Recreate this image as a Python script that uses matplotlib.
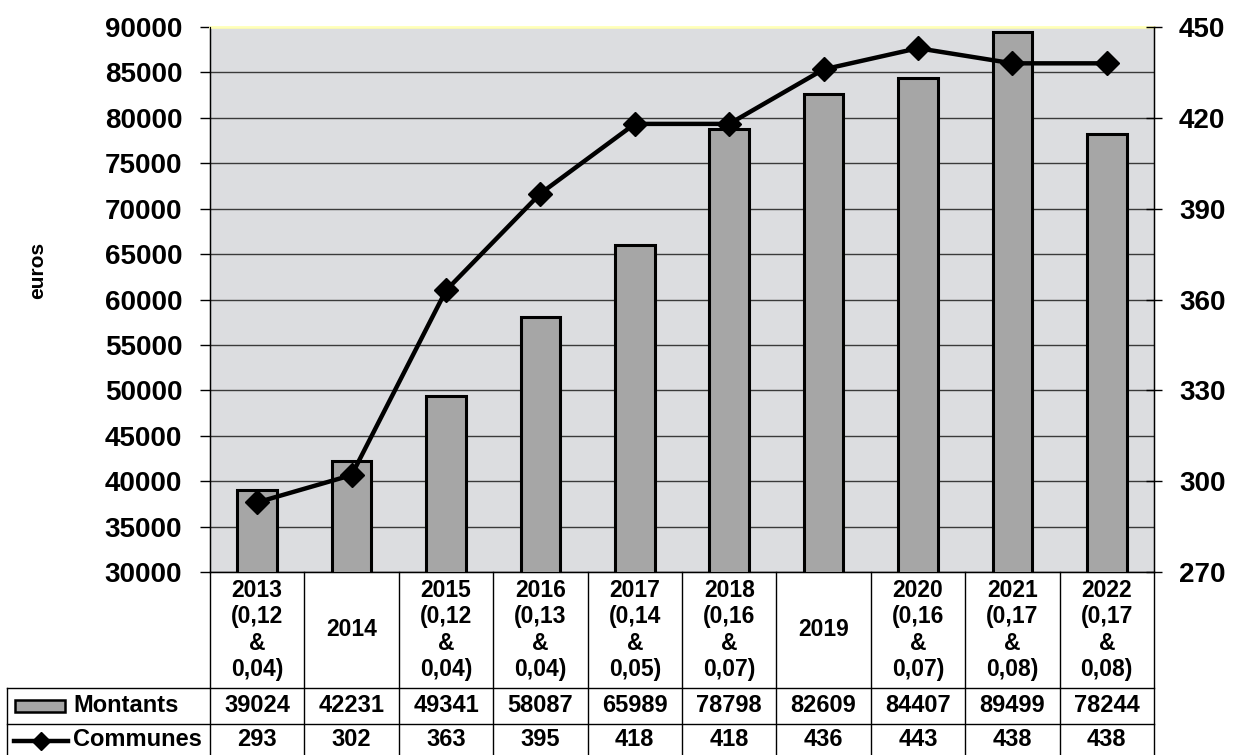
import matplotlib.pyplot as plt
from matplotlib.lines import Line2D
from matplotlib.patches import Rectangle
from matplotlib.transforms import blended_transform_factory

plt.rcParams['font.family'] = ['Liberation Sans', 'DejaVu Sans']
plt.rcParams['font.weight'] = 'bold'

categories = ['2013\n(0,12\n&\n0,04)', '2014', '2015\n(0,12\n&\n0,04)', '2016\n(0,13\n&\n0,04)',
              '2017\n(0,14\n&\n0,05)', '2018\n(0,16\n&\n0,07)', '2019', '2020\n(0,16\n&\n0,07)',
              '2021\n(0,17\n&\n0,08)', '2022\n(0,17\n&\n0,08)']
montants = [39024, 42231, 49341, 58087, 65989, 78798, 82609, 84407, 89499, 78244]
communes = [293, 302, 363, 395, 418, 418, 436, 443, 438, 438]
left_ticks = list(range(30000, 90001, 5000))
right_ticks = list(range(270, 451, 30))

W, H = 1233, 755


def fx(x):
    return x / W


def fy(y):
    return 1 - y / H


fig = plt.figure(figsize=(W / 100, H / 100), dpi=100)
ax = fig.add_axes([fx(210), fy(572), (1154 - 210) / W, (572 - 27) / H])
ax.set_facecolor('#dcdde0')

x = list(range(len(montants)))
ax.bar(x, montants, width=0.42, color='#a6a6a6', edgecolor='black', linewidth=2.2, zorder=3)
ax.set_xlim(-0.5, len(x) - 0.5)
ax.set_ylim(30000, 90000)
ax.set_yticks(left_ticks)
ax.set_xticks([])
ax.grid(axis='y', color='#3a3a3a', linewidth=1, zorder=1)
ax.tick_params(axis='y', labelsize=20, length=7, width=1, pad=13, direction='out')
for lab in ax.get_yticklabels():
    lab.set_fontweight('bold')
ax.spines['top'].set_color('#ffffb8')
ax.spines['top'].set_linewidth(2)
ax.spines['left'].set_linewidth(1)
ax.spines['bottom'].set_linewidth(1)

ax2 = ax.twinx()
ax2.plot(x, communes, color='black', linewidth=3.2, marker='D', markersize=12, zorder=5)
ax2.set_ylim(270, 450)
ax2.set_yticks(right_ticks)
ax2.tick_params(axis='y', labelsize=20, length=12, width=1, pad=12, direction='inout')
for lab in ax2.get_yticklabels():
    lab.set_fontweight('bold')
ax2.spines['top'].set_visible(False)
ax2.spines['right'].set_linewidth(1)

fig.text(fx(38), fy(270), 'euros', rotation=90, ha='center', va='center', fontsize=15,
         fontweight='bold')

# data table under the chart
tr = blended_transform_factory(ax.transData, fig.transFigure)
for k in range(len(x) + 1):
    fig.add_artist(Line2D([k - 0.5, k - 0.5], [fy(572), fy(755)], transform=tr,
                          color='black', linewidth=1))
for yy in (688, 724):
    fig.add_artist(Line2D([fx(7), fx(1154)], [fy(yy), fy(yy)], color='black', linewidth=1))
fig.add_artist(Line2D([fx(7), fx(7)], [fy(688), fy(755)], color='black', linewidth=1))

for i in x:
    fig.text(i, fy(630), categories[i], transform=tr, ha='center', va='center',
             fontsize=16.5, fontweight='bold', linespacing=1.17)
    fig.text(i, fy(706), str(montants[i]), transform=tr, ha='center', va='center',
             fontsize=17, fontweight='bold')
    fig.text(i, fy(740), str(communes[i]), transform=tr, ha='center', va='center',
             fontsize=17, fontweight='bold')

fig.add_artist(Rectangle((fx(15), fy(712)), fx(65) - fx(15), fy(700) - fy(712),
                         facecolor='#a6a6a6', edgecolor='black', linewidth=1.8))
fig.text(fx(73), fy(706), 'Montants', ha='left', va='center', fontsize=17, fontweight='bold')
fig.add_artist(Line2D([fx(14), fx(68)], [fy(741), fy(741)], color='black', linewidth=3.2))
fig.add_artist(Line2D([fx(41)], [fy(741)], color='black', marker='D', markersize=9))
fig.text(fx(73), fy(740), 'Communes', ha='left', va='center', fontsize=17, fontweight='bold')

fig.savefig('out.png', dpi=100)
